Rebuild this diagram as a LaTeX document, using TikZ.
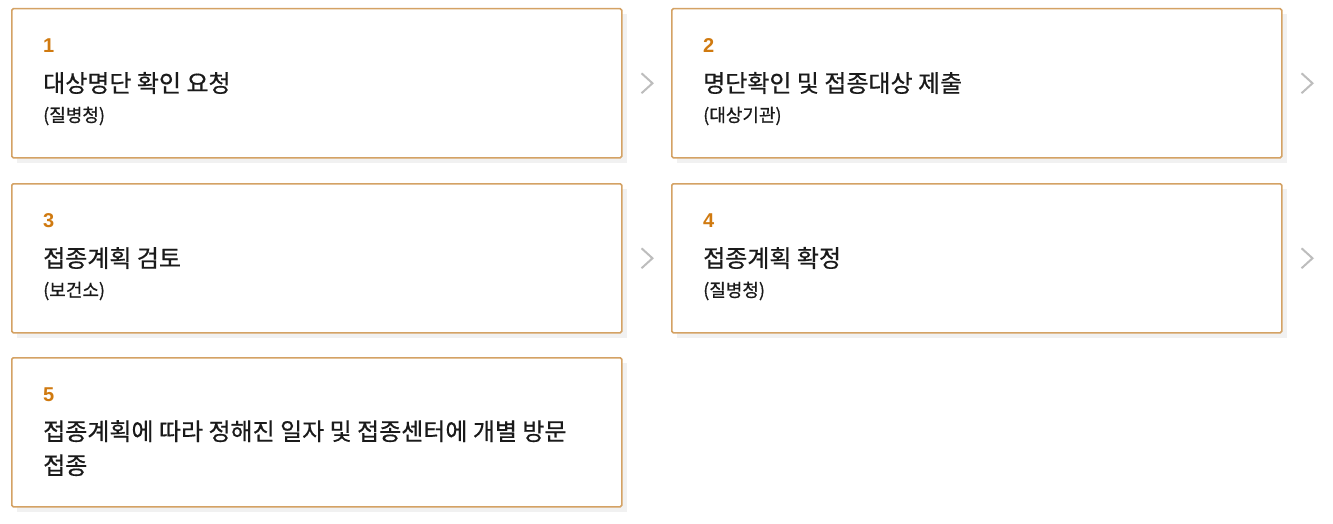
\documentclass[tikz,border=0pt]{standalone}
\usepackage{fontspec}
\setmainfont{Noto Sans CJK KR}[FakeBold=0.6]
\newfontfamily\numfont{Liberation Sans}
\definecolor{bordertan}{HTML}{D4A264}
\definecolor{numorange}{HTML}{D07A10}
\definecolor{shadowgray}{HTML}{F1F1F1}
\definecolor{chevgray}{HTML}{BDBDBD}
\definecolor{txtdark}{HTML}{1A1A1A}
\tikzset{
  stepbox/.style={draw=bordertan, line width=1.5pt, fill=white, rounded corners=1.5pt, minimum width=610pt, minimum height=149pt, anchor=north west, inner sep=0pt},
  shadowbox/.style={fill=shadowgray, minimum width=610pt, minimum height=149pt, anchor=north west, inner sep=0pt},
  numtext/.style={anchor=west, inner sep=0pt, text=numorange, font=\numfont\bfseries\fontsize{20}{22}\selectfont},
  titletext/.style={anchor=west, inner sep=0pt, text=txtdark, font=\fontsize{24}{34}\selectfont, align=left},
  subtext/.style={anchor=west, inner sep=0pt, text=txtdark, font=\fontsize{18}{22}\selectfont},
  chevron/.style={draw=chevgray, line width=2pt, line cap=butt, line join=miter},
}
\begin{document}
\begin{tikzpicture}[x=1pt,y=-1pt]
\useasboundingbox (0,0) rectangle (1333,524);
% shadows
\foreach \x/\y in {11/8, 671/8, 11/183, 671/183, 11/357} {
  \node[shadowbox] at (\x+6,\y+6) {};
}
% boxes
\node[stepbox] (b1) at (11,8) {};
\node[stepbox] (b2) at (671,8) {};
\node[stepbox] (b3) at (11,183) {};
\node[stepbox] (b4) at (671,183) {};
\node[stepbox] (b5) at (11,357) {};
% texts
\node[numtext] (n1) at (43,46) {1};
\node[titletext] (t1) at (43,83) {대상명단 확인 요청};
\node[subtext] (s1) at (43,116) {(질병청)};
\node[numtext] (n2) at (703,46) {2};
\node[titletext] (t2) at (703,83) {명단확인 및 접종대상 제출};
\node[subtext] (s2) at (703,116) {(대상기관)};
\node[numtext] (n3) at (43,221) {3};
\node[titletext] (t3) at (43,258) {접종계획 검토};
\node[subtext] (s3) at (43,291) {(보건소)};
\node[numtext] (n4) at (703,221) {4};
\node[titletext] (t4) at (703,258) {접종계획 확정};
\node[subtext] (s4) at (703,291) {(질병청)};
\node[numtext] (n5) at (43,395) {5};
\node[titletext, anchor=north west] (t5) at (43,420) {접종계획에 따라 정해진 일자 및 접종센터에 개별 방문\\접종};
% chevrons
\foreach \b in {b1,b2,b3,b4} {
  \draw[chevron] ([xshift=19pt,yshift=10pt]\b.east) -- ++(11,10) -- ++(-11,10);
}
\end{tikzpicture}
\end{document}
